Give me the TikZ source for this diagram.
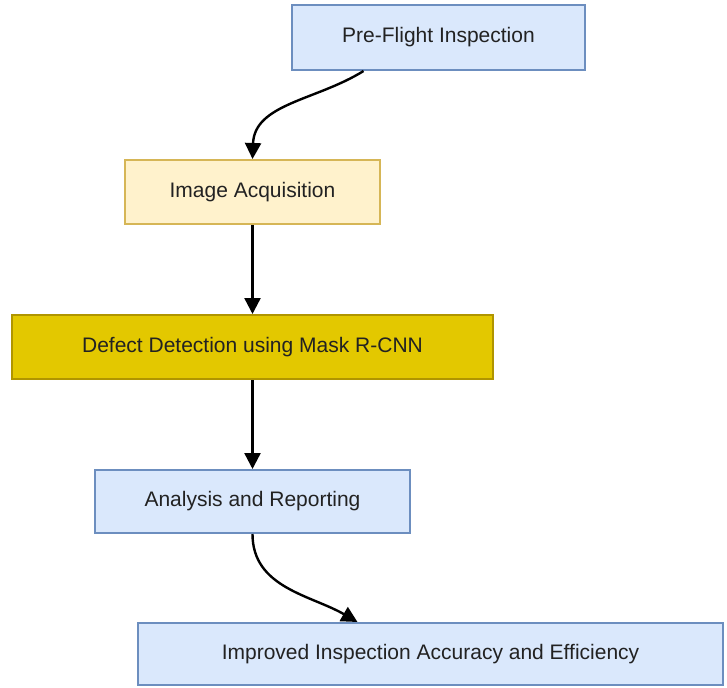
\documentclass[tikz,border=0pt]{standalone}
\usepackage{fontspec}
\setmainfont{Liberation Sans}
\usepackage{tikz}
\usetikzlibrary{arrows.meta, positioning, calc}
\usepackage{xcolor}
\definecolor{boxblue}{HTML}{DAE8FC}
\definecolor{lineblue}{HTML}{6C8EBF}
\definecolor{boxcream}{HTML}{FFF2CC}
\definecolor{linecream}{HTML}{D6B656}
\definecolor{boxgold}{HTML}{E3C800}
\definecolor{linegold}{HTML}{B09500}
\definecolor{txtgrey}{HTML}{222222}

\begin{document}
\begin{tikzpicture}[x=1pt, y=-1pt,
      stage/.style={draw=lineblue, fill=boxblue, line width=2pt,
                    minimum height=64pt, font=\fontsize{21}{24}\selectfont,
                    text=txtgrey, align=center},
      arr/.style={-{Triangle[length=16pt, width=16pt]}, line width=2.4pt}
    ]
      \useasboundingbox (0,0) rectangle (727,687);

      \node[stage, minimum width=293pt, minimum height=65pt] (pre) at (438.5, 37.5) {Pre-Flight Inspection};
      \node[stage, draw=linecream, fill=boxcream, minimum width=255pt] (acq) at (252.5, 192) {Image Acquisition};
      \node[stage, draw=linegold, fill=boxgold, minimum width=481pt] (det) at (252.5, 347) {Defect Detection using Mask R-CNN};
      \node[stage, minimum width=315pt, minimum height=63pt] (ana) at (252.5, 501.5) {Analysis and Reporting};
      \node[stage, minimum width=585pt, minimum height=62pt] (imp) at (430.5, 654) {Improved Inspection Accuracy and Efficiency};

      \draw[arr] ([xshift=-75pt]pre.south) to[out=212, in=88] (acq.north);
      \draw[arr] (acq) -- (det);
      \draw[arr] (det) -- (ana);
      \draw[arr] (ana.south) to[out=-90, in=150] ([xshift=-73pt]imp.north);
    \end{tikzpicture}
\end{document}
